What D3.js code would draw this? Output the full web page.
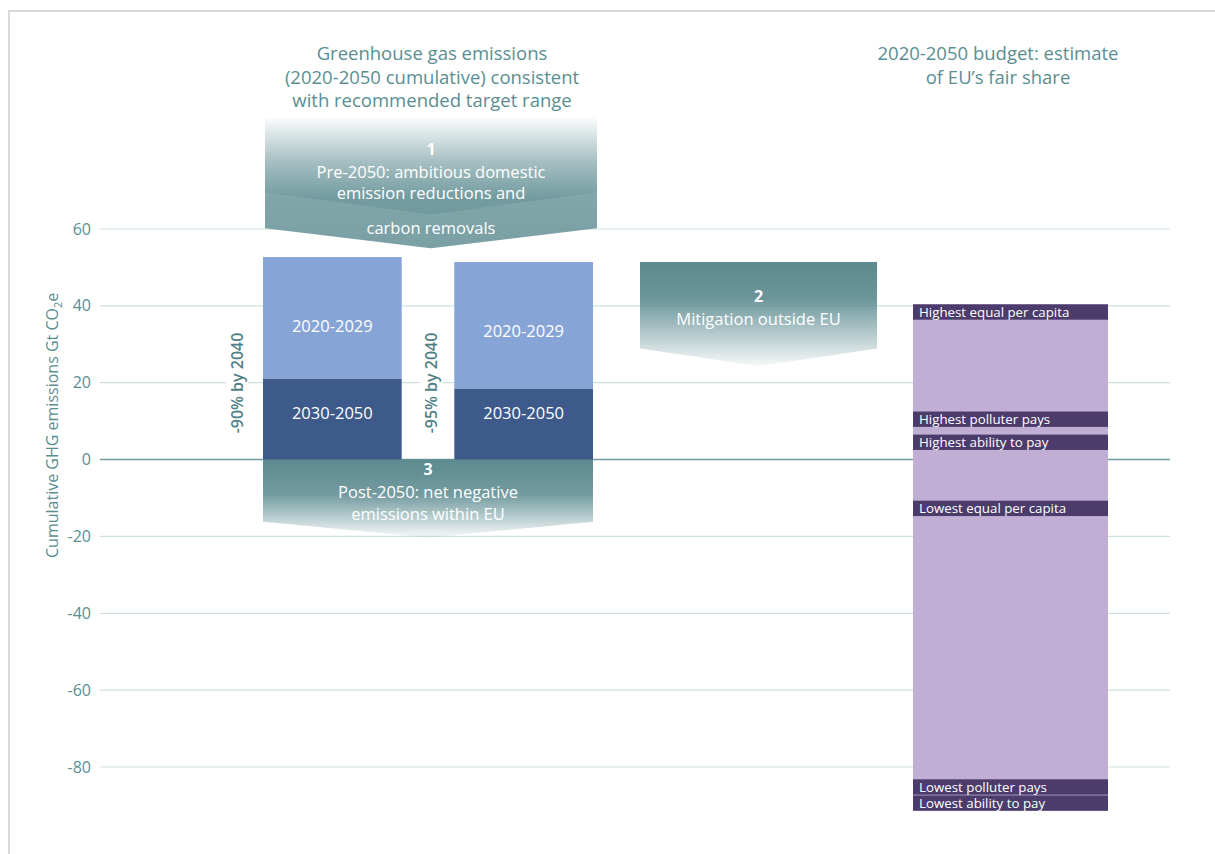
<!DOCTYPE html>
<html><head><meta charset="utf-8">
<script src="https://cdn.jsdelivr.net/npm/d3@7"></script>
<style>
html,body{margin:0;padding:0;background:#fff;}
svg{display:block;font-family:"Open Sans","Noto Sans",sans-serif;}
</style></head>
<body>
<svg id="chart" width="1215" height="854"></svg>
<script>
// ---------- data ----------
const yTicks = [60, 40, 20, 0, -20, -40, -60, -80];
const scenarios = ["-90% by 2040", "-95% by 2040"];
const periods = ["2030-2050", "2020-2029"];
const emis2030_2050 = [21.1, 18.5];
const emis2020_2029 = [31.6, 32.9];
// arrows: [top, side-bottom, tip]
const arrow1 = {num: "1", lines: ["Pre-2050: ambitious domestic", "emission reductions and", "carbon removals"], top: 89.5, bottom: 60.2, tip: 55.0};
const arrow2 = {num: "2", lines: ["Mitigation outside EU"], top: 51.4, bottom: 28.9, tip: 24.3};
const arrow3 = {num: "3", lines: ["Post-2050: net negative", "emissions within EU"], top: 0, bottom: -16.2, tip: -20.3};
const fairTop = 40.4, fairBottom = -91.3;
const fairLabels = ["Highest equal per capita", "Highest polluter pays", "Highest ability to pay", "Lowest equal per capita", "Lowest polluter pays", "Lowest ability to pay"];
const fairValues = [40.4, 12.5, 6.5, -10.7, -83.2, -87.4];
const fairBand = 4.0;
const title1 = ["Greenhouse gas emissions", "(2020-2050 cumulative) consistent", "with recommended target range"];
const title2 = ["2020-2050 budget: estimate", "of EU\u2019s fair share"];
const yTitle = "Cumulative GHG emissions Gt CO";

// ---------- layout ----------
const svg = d3.select("#chart");
const teal = "#5b8a8f", tealText = "#5a8e92";
const y = d3.scaleLinear().domain([-80, 60]).range([767, 229]);
const gridX0 = 100, gridX1 = 1170;

// border
svg.append("path").attr("d", "M9,854 L9,11 L1215,11").attr("fill", "none").attr("stroke", "#d9d9d9").attr("stroke-width", 2);

const defs = svg.append("defs");
function vgrad(id, stops) {
  const g = defs.append("linearGradient").attr("id", id).attr("x1", 0).attr("x2", 0).attr("y1", 0).attr("y2", 1);
  stops.forEach(s => g.append("stop").attr("offset", s[0]).attr("stop-color", s[1]).attr("stop-opacity", s[2]));
}
vgrad("g1", [[0, teal, 0.0], [0.35, teal, 0.55], [0.62, teal, 0.85], [1, teal, 0.9]]);
vgrad("g2", [[0, teal, 1], [0.35, teal, 0.9], [1, teal, 0.05]]);
vgrad("g3", [[0, teal, 1], [0.45, teal, 0.85], [1, teal, 0.05]]);

// grid
const yAxis = d3.axisLeft(y).tickValues(yTicks).tickSize(0).tickPadding(8).tickFormat(d => String(d));
const ga = svg.append("g").attr("transform", `translate(${gridX0 - 1},0)`).call(yAxis);
ga.select(".domain").remove();
ga.selectAll("text").attr("fill", tealText).style("font-size", "16px").attr("font-family", "'Open Sans',sans-serif");
svg.append("g").selectAll("line").data(yTicks).join("line")
  .attr("x1", gridX0).attr("x2", gridX1)
  .attr("y1", d => y(d)).attr("y2", d => y(d))
  .attr("stroke", d => d === 0 ? "#6f9c9e" : "#cfdfdf").attr("stroke-width", d => d === 0 ? 1.5 : 1.2);

// y title
const yt = svg.append("text").attr("transform", `translate(58,${y(8.9)}) rotate(-90)`)
  .attr("text-anchor", "middle").attr("fill", tealText).style("font-size", "16px");
yt.append("tspan").text(yTitle);
yt.append("tspan").text("2").attr("dy", 4).style("font-size", "11px");
yt.append("tspan").text("e").attr("dy", -4);

// chevron helper
function chevron(x0, x1, a) {
  const xc = (x0 + x1) / 2;
  return `M${x0},${y(a.top)} L${x1},${y(a.top)} L${x1},${y(a.bottom)} L${xc},${y(a.tip)} L${x0},${y(a.bottom)} Z`;
}
function label(x, yy, txt, size, bold) {
  return svg.append("text").attr("x", x).attr("y", yy).attr("text-anchor", "middle").attr("fill", "#fff")
    .style("font-size", size + "px").style("font-weight", bold ? "bold" : "normal").text(txt);
}

// Arrow 1
const a1x0 = 265, a1x1 = 597, a1c = (a1x0 + a1x1) / 2;
svg.append("path").attr("d", chevron(a1x0, a1x1, arrow1)).attr("fill", "url(#g1)");
svg.append("path").attr("d", `M${a1x0},${y(69.5)} L${a1c},${y(63.8)} L${a1x1},${y(69.5)} L${a1x1},${y(arrow1.bottom)} L${a1c},${y(arrow1.tip)} L${a1x0},${y(arrow1.bottom)} Z`)
  .attr("fill", "#ffffff").attr("opacity", 0.1);
label(a1c, 155, arrow1.num, 16, true);
label(a1c, 178, arrow1.lines[0], 16.5);
label(a1c, 199, arrow1.lines[1], 16.5);
label(a1c, 234, arrow1.lines[2], 16.5);

// Arrow 3 (drawn before bars)
const a3x0 = 263, a3x1 = 593, a3c = (a3x0 + a3x1) / 2;
svg.append("path").attr("d", chevron(a3x0, a3x1, arrow3)).attr("fill", "url(#g3)");
label(a3c, 475, arrow3.num, 16, true);
label(a3c, 498, arrow3.lines[0], 16.5);
label(a3c, 520, arrow3.lines[1], 16.5);

// Stacked bars
const xb = d3.scaleBand().domain(scenarios).range([263, 593]).paddingInner(0.275);
const stackData = scenarios.map((s, i) => ({s, "2030-2050": emis2030_2050[i], "2020-2029": emis2020_2029[i]}));
const series = d3.stack().keys(periods)(stackData);
const barColor = d3.scaleOrdinal().domain(periods).range(["#3d5a8a", "#87a4d6"]);
const gb = svg.append("g");
series.forEach(ser => {
  gb.selectAll(null).data(ser).join("rect")
    .attr("x", d => xb(d.data.s)).attr("width", xb.bandwidth())
    .attr("y", d => y(d[1])).attr("height", d => y(d[0]) - y(d[1]))
    .attr("fill", barColor(ser.key));
  gb.selectAll(null).data(ser).join("text")
    .attr("x", d => xb(d.data.s) + xb.bandwidth() / 2)
    .attr("y", d => (ser.key === "2020-2029" ? y(d[1] - 18) : y(d[0] + 12)) + 6)
    .attr("text-anchor", "middle").attr("fill", "#fff").style("font-size", "16.5px")
    .text(ser.key);
});
// scenario labels (vertical)
scenarios.forEach((s, i) => {
  const cx = i === 0 ? xb(s) - 26 : xb(s) - 23;
  svg.append("rect").attr("x", cx - 11).attr("y", 330).attr("width", 22).attr("height", 106).attr("fill", "#fff");
  svg.append("text").attr("transform", `translate(${cx + 6},${383}) rotate(-90)`)
    .attr("text-anchor", "middle").attr("fill", "#4f8086").style("font-size", "16px").style("font-weight", "600").text(s);
});

// Arrow 2
const a2x0 = 640, a2x1 = 877, a2c = (a2x0 + a2x1) / 2;
svg.append("path").attr("d", chevron(a2x0, a2x1, arrow2)).attr("fill", "url(#g2)");
label(a2c, 302, arrow2.num, 16, true);
label(a2c, 325, arrow2.lines[0], 16.5);

// Fair share bar
const fx0 = 913, fx1 = 1108;
svg.append("rect").attr("x", fx0).attr("width", fx1 - fx0).attr("y", y(fairTop)).attr("height", y(fairBottom) - y(fairTop)).attr("fill", "#c1aed5");
const gf = svg.append("g");
gf.selectAll("rect").data(fairValues).join("rect")
  .attr("x", fx0).attr("width", fx1 - fx0)
  .attr("y", d => y(d)).attr("height", y(0) - y(fairBand))
  .attr("fill", "#4b3c6b");
gf.selectAll("text").data(fairLabels).join("text")
  .attr("x", fx0 + 6).attr("y", (d, i) => y(fairValues[i]) + 12.5)
  .attr("fill", "#fff").style("font-size", "13.3px").text(d => d);

// Titles
svg.append("g").selectAll("text").data(title1).join("text")
  .attr("x", 432).attr("y", (d, i) => 60 + i * 23.5).attr("text-anchor", "middle")
  .attr("fill", tealText).style("font-size", "18.5px").text(d => d);
svg.append("g").selectAll("text").data(title2).join("text")
  .attr("x", 998).attr("y", (d, i) => 60 + i * 23.5).attr("text-anchor", "middle")
  .attr("fill", tealText).style("font-size", "18.5px").text(d => d);
</script>
</body></html>
